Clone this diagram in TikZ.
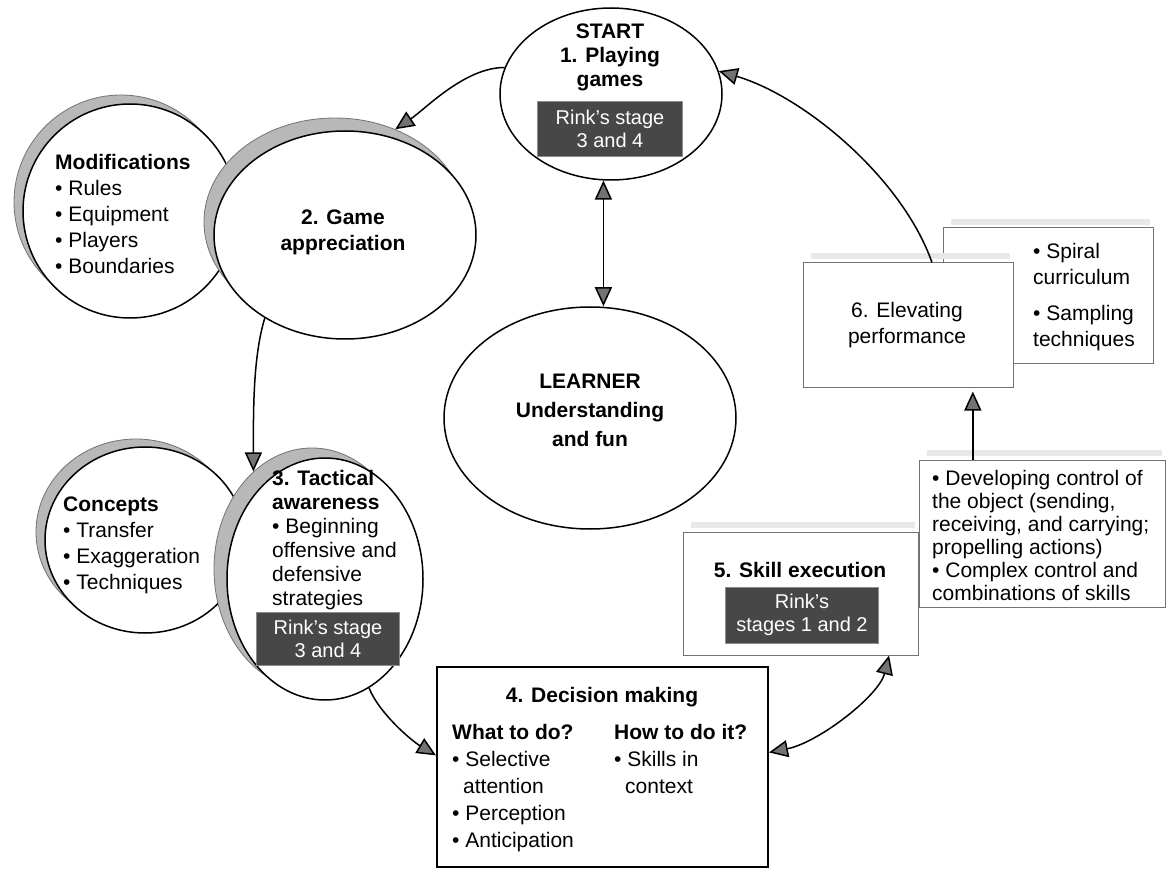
\documentclass[tikz,border=0pt]{standalone}
\usepackage{fontspec}
\setmainfont{Liberation Sans}
\usetikzlibrary{shapes.geometric,arrows.meta,calc}

\tikzset{
  ring/.style={ellipse, draw, line width=1.5pt, fill=white, inner sep=0pt},
  ringshade/.style={ellipse, draw=black!55, line width=0.8pt, fill=black!28, inner sep=0pt},
  rink/.style={rectangle, fill=black!72, draw=black!45, text=white, align=center, inner sep=0pt, font=\fontsize{20}{23}\selectfont},
  pale/.style={rectangle, draw=black!55, line width=1pt, fill=white, inner sep=0pt},
  haze/.style={line width=6pt, black!9},
  words/.style={align=left, inner sep=0pt, font=\fontsize{21}{26}\selectfont},
  heads/.style={align=center, inner sep=0pt, font=\bfseries\fontsize{21}{26}\selectfont},
  arr/.style={line width=1.5pt, -{Triangle[length=19pt,width=17pt,fill=black!55]}},
  dblarr/.style={line width=1.5pt, {Triangle[length=19pt,width=17pt,fill=black!55]}-{Triangle[length=19pt,width=17pt,fill=black!55]}},
}

\begin{document}
\begin{tikzpicture}[x=1pt,y=-1pt]
\useasboundingbox (0,0) rectangle (1171,869);

% left hand rings
\node[ringshade, minimum width=214pt, minimum height=214pt] (modshade) at (121,202) {};
\node[ring, minimum width=214pt, minimum height=214pt] (mods) at (130,211) {};
\node[ringshade, minimum width=262pt, minimum height=208pt] (gameshade) at (335,222) {};
\node[ring, minimum width=262pt, minimum height=208pt] (game) at (345,235) {};

\node[ringshade, minimum width=200pt, minimum height=186pt] (conshade) at (136,532) {};
\node[ring, minimum width=200pt, minimum height=186pt] (concepts) at (145,540) {};
\node[ringshade, minimum width=196pt, minimum height=242pt] (tacshade) at (312,569) {};
\node[ring, minimum width=196pt, minimum height=242pt] (tactic) at (325,579) {};

% start and learner
\node[ring, minimum width=222pt, minimum height=172pt] (play) at (611,94) {};
\node[ring, minimum width=292pt, minimum height=222pt] (learner) at (590,418) {};

% boxes on the right
\draw[haze] (951,222) -- (1150,222);
\node[pale, minimum width=210pt, minimum height=135pt] (spiral) at (1048,295.5) {};
\draw[haze] (811,256) -- (1010,256);
\node[pale, minimum width=210pt, minimum height=124pt] (perf) at (908,325) {};
\draw[haze] (927,453) -- (1162,453);
\node[pale, minimum width=246pt, minimum height=147pt] (ctrl) at (1042,533.5) {};
\draw[haze] (691,525) -- (915,525);
\node[pale, minimum width=235pt, minimum height=123pt] (skill) at (800.5,593.5) {};
\node[rectangle, draw, line width=2pt, fill=white, minimum width=331pt, minimum height=200pt] (decide) at (602.5,767) {};

% texts
\node[heads, font=\bfseries\fontsize{21}{24}\selectfont] (playtxt) at (610,57) {START\\1. Playing\\games};
\node[rink, minimum width=145pt, minimum height=55pt] (rinkone) at (610,129) {Rink's stage\\3 and 4};

\node[words, anchor=north west] (modtxt) at (55,154)
  {\textbf{Modifications}\\\textbullet\ Rules\\\textbullet\ Equipment\\\textbullet\ Players\\\textbullet\ Boundaries};
\node[heads] (gametxt) at (343,232) {2. Game\\appreciation};

\node[words, anchor=north west] (contxt) at (63,497)
  {\textbf{Concepts}\\\textbullet\ Transfer\\\textbullet\ Exaggeration\\\textbullet\ Techniques};
\node[words, anchor=north west, font=\fontsize{21}{24}\selectfont] (tactxt) at (272,470)
  {\textbf{3. Tactical}\\\textbf{awareness}\\\textbullet\ Beginning\\offensive and\\defensive\\strategies};
\node[rink, minimum width=143pt, minimum height=53pt] (rinkthree) at (328,639) {Rink's stage\\3 and 4};

\node[heads, font=\bfseries\fontsize{21}{29}\selectfont] (learntxt) at (590,410) {LEARNER\\Understanding\\and fun};

\node[words, align=center] (perftxt) at (907,325) {6. Elevating\\performance};
\node[words, anchor=north west] (spiraltxt) at (1033,243)
  {\textbullet\ Spiral\\curriculum\\[10pt]\textbullet\ Sampling\\techniques};
\node[words, anchor=north west, font=\fontsize{21}{23}\selectfont] (ctrltxt) at (932,470)
  {\textbullet\ Developing control of\\the object (sending,\\receiving, and carrying;\\propelling actions)\\\textbullet\ Complex control and\\combinations of skills};

\node[heads] (skilltxt) at (800,570) {5. Skill execution};
\node[rink, minimum width=153pt, minimum height=56pt] (rinkfive) at (802,615) {Rink's\\stages 1 and 2};

\node[heads] (decidetxt) at (602,697) {4. Decision making};
\node[words, anchor=north west, font=\fontsize{21}{27}\selectfont] (whattxt) at (452,724)
  {\textbf{What to do?}\\\textbullet\ Selective\\\hspace*{11pt}attention\\\textbullet\ Perception\\\textbullet\ Anticipation};
\node[words, anchor=north west, font=\fontsize{21}{27}\selectfont] (howtxt) at (614,724)
  {\textbf{How to do it?}\\\textbullet\ Skills in\\\hspace*{11pt}context};

% connectors
\draw[arr] (play.166) .. controls +(-40,0) and +(30,-20) .. (gameshade.57);
\draw[arr] (perf.69) .. controls +(-30,-85) and +(85,25) .. (play.12);
\draw[dblarr] (play.265) -- (play.265 |- learner.north);
\draw[arr] (game.226) .. controls +(-12,40) and +(0,-60) .. (tacshade.121);
\draw[arr] (tactic.292) .. controls +(10,25) and +(-25,-15) .. (decide.176);
\draw[dblarr] (decide.5) .. controls +(50,-10) and +(-10,40) .. (skill.325);
\draw[arr, shorten >=4pt] ($(ctrl.north west)!0.22!(ctrl.north east)$) coordinate (ctrltop) -- (ctrltop |- perf.south);
\end{tikzpicture}
\end{document}
